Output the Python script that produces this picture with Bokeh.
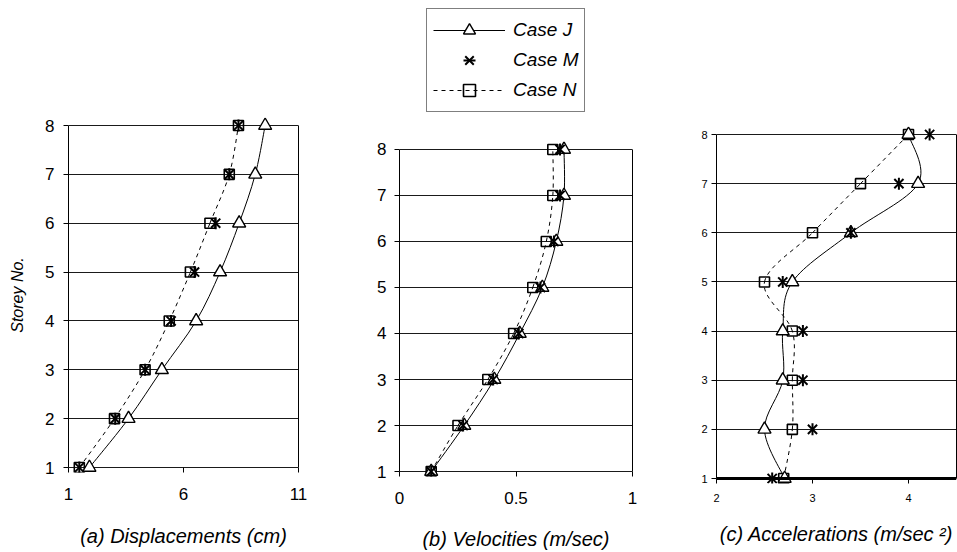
import numpy as np
from bokeh.plotting import figure
from bokeh.layouts import row, column
from bokeh.models import (Range1d, FixedTicker, Legend, LegendItem, LinearAxis,
                          ColumnDataSource, Span, Spacer)
from bokeh.embed import file_html
from bokeh.resources import INLINE

# ---------------- data ----------------
storeys = [1, 2, 3, 4, 5, 6, 7, 8]

disp_J = [1.91, 3.61, 5.06, 6.55, 7.59, 8.42, 9.12, 9.55]
disp_M = [1.47, 3.03, 4.33, 5.46, 6.48, 7.40, 7.99, 8.39]
disp_N = [1.47, 3.00, 4.33, 5.38, 6.30, 7.15, 7.99, 8.39]

vel_J = [0.136, 0.278, 0.407, 0.516, 0.613, 0.673, 0.706, 0.706]
vel_M = [0.136, 0.273, 0.402, 0.512, 0.605, 0.663, 0.689, 0.689]
vel_N = [0.136, 0.251, 0.379, 0.490, 0.572, 0.630, 0.658, 0.658]

acc_J = [2.71, 2.50, 2.69, 2.69, 2.79, 3.40, 4.10, 4.00]
acc_M = [2.58, 3.00, 2.90, 2.90, 2.69, 3.40, 3.90, 4.22]
acc_N = [2.70, 2.79, 2.79, 2.79, 2.50, 3.00, 3.50, 4.00]

disp_ticks = [1, 6, 11]
vel_ticks = [0, 0.5, 1]
acc_ticks = [2, 3, 4]
acc_xmax = 4.5

series_names = ["Case J", "Case M", "Case N"]
captions = ["(a) Displacements (cm)", "(b) Velocities (m/sec)",
            "(c) Accelerations (m/sec \u00b2)"]
y_title = "Storey No."

FONT = "Liberation Sans"
TOP_H = 113          # height of the legend strip
PANEL_H = 552 - TOP_H
TOP_B = 4            # top border of each panel figure


def smooth(xs, ys):
    """Bezier control points (Catmull-Rom style) through the given points."""
    x = np.asarray(xs, float)
    y = np.asarray(ys, float)
    n = len(x)
    xp = np.concatenate([[x[0]], x, [x[-1]]])
    yp = np.concatenate([[y[0]], y, [y[-1]]])
    cx0 = x[:-1] + (xp[2:n + 1] - xp[0:n - 1]) / 6.0
    cy0 = y[:-1] + (yp[2:n + 1] - yp[0:n - 1]) / 6.0
    cx1 = x[1:] - (xp[3:n + 2] - xp[1:n]) / 6.0
    cy1 = y[1:] - (yp[3:n + 2] - yp[1:n]) / 6.0
    return ColumnDataSource(dict(x0=x[:-1], y0=y[:-1], x1=x[1:], y1=y[1:],
                                 cx0=cx0, cy0=cy0, cx1=cx1, cy1=cy1))


def add_markers(p, J, M, N, ys):
    p.scatter(N, ys, marker="square", size=10, fill_color=None,
              line_color="black", line_width=1.6)
    p.scatter(J, ys, marker="triangle", size=13, fill_color="white",
              line_color="black", line_width=1.4)
    p.scatter(M, ys, marker="x", size=13, line_color="black", line_width=2)
    p.scatter(M, ys, marker="dash", size=12, angle=np.pi / 2,
              line_color="black", line_width=2)


def panel(width, frame_left, frame_right, y8_px, y1_px, x_range, ticks,
          J, M, N, tick_size, tick_standoff, ylab_standoff, caption,
          cap_standoff, cap_size, thick_base=False, ylabel=None, tick_len=5):
    top_pad_px = 8
    frame_top = y8_px - top_pad_px
    frame_bottom = y1_px + tick_len
    spacer_h = frame_top - TOP_H - TOP_B
    fig_h = PANEL_H - spacer_h
    bottom = fig_h - TOP_B - (frame_bottom - frame_top)
    ppu = (y1_px - y8_px) / 7.0
    p = figure(width=width, height=fig_h, output_backend="svg", toolbar_location=None,
               x_range=Range1d(*x_range),
               y_range=Range1d(1 - tick_len / ppu, 8 + top_pad_px / ppu),
               min_border_left=frame_left, min_border_right=width - frame_right,
               min_border_top=TOP_B, min_border_bottom=bottom,
               background_fill_color="white", border_fill_color="white",
               outline_line_color=None)

    p.xgrid.grid_line_color = None
    p.ygrid.ticker = FixedTicker(ticks=storeys)
    p.ygrid.grid_line_color = "#1a1a1a"
    p.ygrid.grid_line_width = 1

    xa = p.xaxis[0]
    xa.ticker = FixedTicker(ticks=ticks)
    xa.axis_line_color = None
    xa.major_tick_out = 0
    xa.major_tick_in = tick_len
    xa.major_tick_line_color = "black"
    xa.minor_tick_line_color = None
    xa.major_label_text_font = FONT
    xa.major_label_text_font_size = tick_size
    xa.major_label_text_color = "black"
    xa.major_label_standoff = tick_standoff
    xa.axis_label = caption
    xa.axis_label_text_font = FONT
    xa.axis_label_text_font_style = "italic"
    xa.axis_label_text_font_size = cap_size
    xa.axis_label_text_color = "black"
    xa.axis_label_standoff = cap_standoff

    ya = p.yaxis[0]
    ya.ticker = FixedTicker(ticks=storeys)
    ya.bounds = (storeys[0], storeys[-1])
    ya.axis_line_color = "black"
    ya.major_tick_out = tick_len
    ya.major_tick_in = 0
    ya.minor_tick_line_color = None
    ya.major_label_text_font = FONT
    ya.major_label_text_font_size = tick_size
    ya.major_label_text_color = "black"
    ya.major_label_standoff = ylab_standoff
    if ylabel:
        ya.axis_label = ylabel
        ya.axis_label_text_font = FONT
        ya.axis_label_text_font_style = "italic"
        ya.axis_label_text_font_size = "16px"
        ya.axis_label_text_color = "black"
        ya.axis_label_standoff = 16

    ra = LinearAxis(ticker=FixedTicker(ticks=[]), bounds=(storeys[0], storeys[-1]),
                    axis_line_color="black", major_tick_out=0, major_tick_in=0,
                    minor_tick_out=0, minor_tick_in=0,
                    major_label_text_font_size="0px")
    p.add_layout(ra, "right")

    if thick_base:
        p.add_layout(Span(location=storeys[0], dimension="width",
                          line_color="black", line_width=3))

    p.bezier(x0="x0", y0="y0", x1="x1", y1="y1", cx0="cx0", cy0="cy0",
             cx1="cx1", cy1="cy1", source=smooth(J, storeys),
             line_color="black", line_width=1)
    p.bezier(x0="x0", y0="y0", x1="x1", y1="y1", cx0="cx0", cy0="cy0",
             cx1="cx1", cy1="cy1", source=smooth(N, storeys),
             line_color="black", line_width=1, line_dash="4 4")
    add_markers(p, J, M, N, storeys)
    if spacer_h > 0:
        return column(Spacer(width=width, height=spacer_h), p, spacing=0)
    return column(p, spacing=0)


pa = panel(330, 68, 298, 125, 467, (disp_ticks[0], disp_ticks[-1]), disp_ticks,
           disp_J, disp_M, disp_N, "17px", 15, 9, captions[0], 22, "20px",
           ylabel=y_title)
pb = panel(330, 69, 302, 149, 472, (vel_ticks[0], vel_ticks[-1]), vel_ticks,
           vel_J, vel_M, vel_N, "17px", 15, 8, captions[1], 21, "20px")
pc = panel(297, 56, 296, 134, 478, (acc_ticks[0], acc_xmax), acc_ticks,
           acc_J, acc_M, acc_N, "11px", 10, 4, captions[2], 18, "20px",
           thick_base=True)

# ---------------- legend strip ----------------
pl = figure(width=957, height=TOP_H, output_backend="svg", toolbar_location=None,
            x_range=Range1d(0, 1), y_range=Range1d(0, 1),
            x_axis_location=None, y_axis_location=None,
            min_border_left=0, min_border_right=0, min_border_top=0, min_border_bottom=0,
            background_fill_color="white", border_fill_color="white",
            outline_line_color=None)
pl.grid.visible = False
nowhere = ColumnDataSource(dict(x=[np.nan], y=[np.nan]))
r_jl = pl.line("x", "y", source=nowhere, line_color="black", line_width=1)
r_jt = pl.scatter("x", "y", source=nowhere, marker="triangle", size=12,
                  fill_color="white", line_color="black", line_width=1.4)
r_mx = pl.scatter("x", "y", source=nowhere, marker="x", size=13,
                  line_color="black", line_width=2)
r_md = pl.scatter("x", "y", source=nowhere, marker="dash", size=12, angle=np.pi / 2,
                  line_color="black", line_width=2)
r_nl = pl.line("x", "y", source=nowhere, line_color="black", line_width=1,
               line_dash="4 4")
r_ns = pl.scatter("x", "y", source=nowhere, marker="square", size=10,
                  fill_color=None, line_color="black", line_width=1.6)

legend = Legend(items=[LegendItem(label=series_names[0], renderers=[r_jl, r_jt]),
                       LegendItem(label=series_names[1], renderers=[r_mx, r_md]),
                       LegendItem(label=series_names[2], renderers=[r_nl, r_ns])],
                location=(426, 1), orientation="vertical",
                glyph_width=72, glyph_height=30, label_height=30, spacing=0,
                padding=6, margin=0, label_standoff=8,
                label_text_font=FONT, label_text_font_style="italic",
                label_text_font_size="19px", label_text_color="black",
                border_line_color="black", border_line_width=1,
                background_fill_color="white", background_fill_alpha=1)
pl.add_layout(legend)

layout = column(pl, row(pa, pb, pc, spacing=0), spacing=0)
open("out.html", "w").write(file_html(layout, INLINE))
